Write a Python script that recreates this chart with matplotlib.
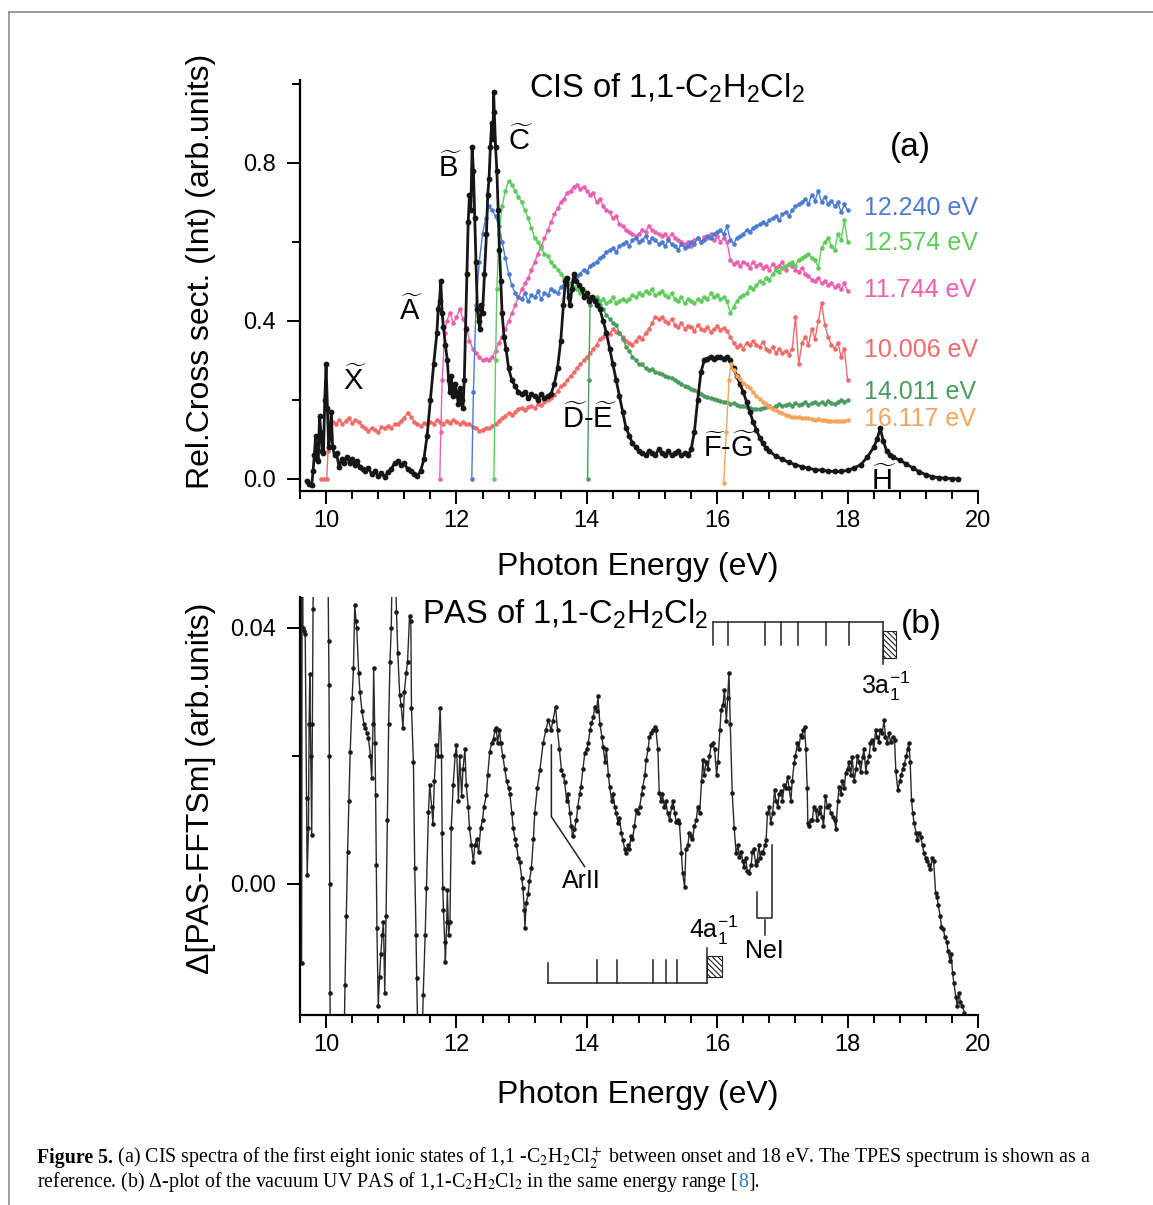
import numpy as np
import matplotlib
matplotlib.use("Agg")
import matplotlib.pyplot as plt
from matplotlib.patches import Rectangle
from matplotlib.lines import Line2D

plt.rcParams['font.family'] = ['Liberation Sans', 'DejaVu Sans']
plt.rcParams['mathtext.fontset'] = 'custom'
plt.rcParams['mathtext.rm'] = 'Liberation Sans'
plt.rcParams['mathtext.it'] = 'Liberation Sans:italic'
plt.rcParams['mathtext.bf'] = 'Liberation Sans:bold'
plt.rcParams['hatch.linewidth'] = 0.8

# ---------------- data, panel (a): CIS spectra ----------------
# TPES reference (black), (energy eV, rel. cross section)
tpes = [(9.70, -0.005), (9.74, -0.012), (9.78, -0.015), (9.80, 0.02), (9.82, 0.06), (9.84, 0.11),
        (9.86, 0.05), (9.88, 0.045), (9.90, 0.16), (9.92, 0.12), (9.94, 0.07), (9.96, 0.065),
        (9.98, 0.20), (10.00, 0.29), (10.02, 0.18), (10.04, 0.08), (10.06, 0.11), (10.08, 0.17),
        (10.10, 0.08), (10.13, 0.06), (10.16, 0.065), (10.20, 0.03), (10.24, 0.05), (10.28, 0.04),
        (10.32, 0.056), (10.36, 0.04), (10.40, 0.05), (10.44, 0.035), (10.48, 0.045), (10.52, 0.03),
        (10.56, 0.025), (10.60, 0.02), (10.65, 0.028), (10.70, 0.012), (10.75, 0.02), (10.80, 0.008),
        (10.85, 0.015), (10.90, 0.005), (10.95, 0.018), (11.00, 0.025), (11.05, 0.04), (11.10, 0.045),
        (11.15, 0.035), (11.20, 0.04), (11.25, 0.025), (11.30, 0.02), (11.35, 0.012), (11.40, 0.008),
        (11.45, 0.02), (11.50, 0.05), (11.55, 0.11), (11.60, 0.20), (11.65, 0.29), (11.70, 0.37),
        (11.72, 0.43), (11.74, 0.45), (11.76, 0.50), (11.78, 0.42), (11.80, 0.385), (11.83, 0.34),
        (11.86, 0.30), (11.88, 0.25), (11.90, 0.22), (11.92, 0.26), (11.95, 0.21), (11.98, 0.24),
        (12.00, 0.22), (12.03, 0.19), (12.06, 0.23), (12.08, 0.20), (12.10, 0.18), (12.12, 0.25),
        (12.14, 0.38), (12.16, 0.52), (12.18, 0.65), (12.20, 0.72), (12.22, 0.68), (12.24, 0.84),
        (12.26, 0.78), (12.28, 0.66), (12.30, 0.55), (12.32, 0.43), (12.34, 0.40), (12.36, 0.38),
        (12.38, 0.44), (12.40, 0.42), (12.43, 0.52), (12.46, 0.62), (12.48, 0.72), (12.50, 0.76),
        (12.52, 0.84), (12.54, 0.90), (12.56, 0.86), (12.57, 0.98), (12.58, 0.93), (12.60, 0.84),
        (12.62, 0.78), (12.64, 0.68), (12.66, 0.58), (12.68, 0.50), (12.70, 0.42), (12.73, 0.36),
        (12.76, 0.33), (12.80, 0.28), (12.85, 0.25), (12.90, 0.235), (12.95, 0.22), (13.00, 0.215),
        (13.05, 0.22), (13.10, 0.205), (13.15, 0.215), (13.20, 0.21), (13.25, 0.20), (13.30, 0.215),
        (13.35, 0.205), (13.40, 0.21), (13.45, 0.215), (13.50, 0.24), (13.55, 0.28), (13.60, 0.35),
        (13.64, 0.44), (13.67, 0.50), (13.70, 0.51), (13.72, 0.46), (13.74, 0.44), (13.77, 0.48),
        (13.80, 0.52), (13.84, 0.50), (13.88, 0.49), (13.92, 0.48), (13.96, 0.46), (14.00, 0.47),
        (14.04, 0.45), (14.08, 0.46), (14.12, 0.45), (14.16, 0.44), (14.20, 0.43), (14.25, 0.40),
        (14.30, 0.37), (14.35, 0.33), (14.40, 0.29), (14.45, 0.25), (14.50, 0.21), (14.55, 0.17),
        (14.60, 0.13), (14.65, 0.11), (14.70, 0.09), (14.75, 0.08), (14.80, 0.07), (14.85, 0.065),
        (14.90, 0.06), (14.95, 0.07), (15.00, 0.065), (15.05, 0.06), (15.10, 0.075), (15.15, 0.065),
        (15.20, 0.06), (15.25, 0.07), (15.30, 0.06), (15.35, 0.065), (15.40, 0.07), (15.45, 0.06),
        (15.50, 0.065), (15.55, 0.06), (15.60, 0.075), (15.65, 0.12), (15.70, 0.20), (15.75, 0.27),
        (15.80, 0.30), (15.85, 0.305), (15.90, 0.31), (15.95, 0.305), (16.00, 0.31), (16.05, 0.31),
        (16.10, 0.305), (16.15, 0.31), (16.20, 0.30), (16.25, 0.28), (16.30, 0.26), (16.35, 0.24),
        (16.40, 0.22), (16.45, 0.195), (16.50, 0.17), (16.55, 0.145), (16.60, 0.125), (16.65, 0.105),
        (16.70, 0.09), (16.75, 0.078), (16.80, 0.07), (16.90, 0.058), (17.00, 0.05), (17.10, 0.042),
        (17.20, 0.036), (17.30, 0.031), (17.40, 0.027), (17.50, 0.024), (17.60, 0.022), (17.70, 0.02),
        (17.80, 0.019), (17.90, 0.019), (18.00, 0.022), (18.10, 0.028), (18.20, 0.036), (18.30, 0.055),
        (18.40, 0.08), (18.45, 0.10), (18.50, 0.128), (18.55, 0.095), (18.60, 0.07), (18.65, 0.06),
        (18.70, 0.055), (18.80, 0.048), (18.90, 0.038), (19.00, 0.028), (19.10, 0.018), (19.20, 0.011),
        (19.30, 0.006), (19.40, 0.003), (19.50, 0.002), (19.60, 0.001), (19.70, 0.0)]

# CIS curves: onset points, then values on a 0.05 eV grid starting at *_start
red_onset = [(9.92, 0.0), (9.97, 0.0), (10.01, 0.0), (10.03, 0.07), (10.06, 0.14)]
red_start = 10.10
red_vals = [0.145, 0.14, 0.15, 0.138, 0.148, 0.155, 0.142, 0.15, 0.145, 0.135,
            0.128, 0.122, 0.13, 0.125, 0.12, 0.132, 0.128, 0.135, 0.13, 0.138,
            0.14, 0.148, 0.155, 0.168, 0.158, 0.145, 0.14, 0.135, 0.142, 0.138,
            0.145, 0.14, 0.15, 0.145, 0.138, 0.148, 0.142, 0.15, 0.145, 0.14,
            0.145, 0.138, 0.14, 0.132, 0.128, 0.122, 0.125, 0.13, 0.128, 0.135,
            0.14, 0.148, 0.155, 0.16, 0.168, 0.162, 0.17, 0.178, 0.18, 0.175,
            0.182, 0.185, 0.18, 0.19, 0.188, 0.195, 0.2, 0.205, 0.212, 0.222,
            0.235, 0.24, 0.25, 0.262, 0.27, 0.28, 0.29, 0.3, 0.31, 0.318,
            0.33, 0.34, 0.355, 0.36, 0.373, 0.368, 0.38, 0.372, 0.37, 0.36,
            0.35, 0.345, 0.34, 0.35, 0.36, 0.355, 0.37, 0.38, 0.395, 0.41,
            0.405, 0.41, 0.4, 0.395, 0.405, 0.39, 0.385, 0.395, 0.38, 0.388,
            0.385, 0.375, 0.39, 0.38, 0.378, 0.385, 0.372, 0.38, 0.388, 0.378,
            0.382, 0.375, 0.36, 0.345, 0.335, 0.34, 0.33, 0.345, 0.338, 0.35,
            0.34, 0.335, 0.348, 0.33, 0.325, 0.335, 0.32, 0.33, 0.318, 0.325,
            0.315, 0.33, 0.41, 0.29, 0.345, 0.36, 0.34, 0.38, 0.355, 0.4,
            0.445, 0.39, 0.36, 0.34, 0.33, 0.345, 0.31, 0.33, 0.25]

pink_onset = [(11.744, 0.0), (11.76, 0.12), (11.78, 0.25), (11.82, 0.37)]
pink_start = 11.85
pink_vals = [0.40, 0.42, 0.395, 0.41, 0.43, 0.405, 0.385, 0.35, 0.33, 0.318,
             0.31, 0.30, 0.305, 0.30, 0.31, 0.325, 0.345, 0.36, 0.38, 0.40,
             0.42, 0.44, 0.46, 0.48, 0.495, 0.51, 0.53, 0.55, 0.57, 0.59,
             0.61, 0.63, 0.65, 0.67, 0.685, 0.70, 0.71, 0.725, 0.73, 0.74,
             0.745, 0.735, 0.74, 0.73, 0.72, 0.725, 0.70, 0.71, 0.69, 0.68,
             0.675, 0.66, 0.665, 0.645, 0.64, 0.63, 0.625, 0.62, 0.615, 0.62,
             0.63, 0.625, 0.64, 0.63, 0.625, 0.62, 0.615, 0.62, 0.61, 0.62,
             0.61, 0.605, 0.60, 0.595, 0.60, 0.59, 0.605, 0.61, 0.60, 0.613,
             0.61, 0.62, 0.605, 0.615, 0.60, 0.61, 0.60, 0.555, 0.545, 0.55,
             0.54, 0.55, 0.545, 0.535, 0.55, 0.54, 0.545, 0.535, 0.54, 0.53,
             0.545, 0.535, 0.54, 0.55, 0.53, 0.545, 0.54, 0.53, 0.525, 0.535,
             0.52, 0.515, 0.505, 0.50, 0.51, 0.495, 0.50, 0.49, 0.495, 0.485,
             0.49, 0.48, 0.495, 0.475]

blue_onset = [(12.235, 0.0), (12.26, 0.22), (12.30, 0.44)]
blue_start = 12.35
blue_vals = [0.55, 0.62, 0.66, 0.69, 0.68, 0.665, 0.64, 0.60, 0.56, 0.52,
             0.49, 0.47, 0.46, 0.455, 0.47, 0.45, 0.465, 0.46, 0.475, 0.455,
             0.47, 0.465, 0.48, 0.475, 0.47, 0.485, 0.49, 0.50, 0.495, 0.51,
             0.515, 0.52, 0.53, 0.525, 0.54, 0.545, 0.55, 0.56, 0.565, 0.575,
             0.58, 0.585, 0.575, 0.59, 0.595, 0.60, 0.59, 0.605, 0.61, 0.60,
             0.605, 0.615, 0.60, 0.61, 0.605, 0.595, 0.60, 0.59, 0.605, 0.595,
             0.59, 0.58, 0.595, 0.585, 0.59, 0.60, 0.595, 0.61, 0.60, 0.605,
             0.615, 0.61, 0.62, 0.625, 0.63, 0.62, 0.64, 0.605, 0.595, 0.61,
             0.615, 0.62, 0.63, 0.625, 0.635, 0.64, 0.645, 0.65, 0.645, 0.655,
             0.66, 0.665, 0.655, 0.67, 0.675, 0.665, 0.68, 0.69, 0.695, 0.70,
             0.71, 0.695, 0.72, 0.705, 0.73, 0.70, 0.715, 0.695, 0.705, 0.69,
             0.70, 0.675, 0.695, 0.68]

green_onset = [(12.574, 0.0), (12.60, 0.30), (12.62, 0.48)]
green_start = 12.65
green_vals = [0.62, 0.69, 0.73, 0.755, 0.745, 0.73, 0.715, 0.70, 0.68, 0.66,
              0.635, 0.61, 0.60, 0.585, 0.57, 0.565, 0.55, 0.54, 0.53, 0.52,
              0.51, 0.50, 0.49, 0.485, 0.48, 0.47, 0.475, 0.465, 0.46, 0.455,
              0.46, 0.45, 0.455, 0.445, 0.45, 0.46, 0.445, 0.45, 0.455, 0.45,
              0.455, 0.465, 0.46, 0.47, 0.465, 0.475, 0.47, 0.48, 0.465, 0.47,
              0.475, 0.465, 0.46, 0.47, 0.455, 0.45, 0.46, 0.445, 0.455, 0.45,
              0.445, 0.455, 0.45, 0.46, 0.455, 0.47, 0.46, 0.465, 0.455, 0.46,
              0.45, 0.42, 0.435, 0.45, 0.46, 0.465, 0.47, 0.485, 0.48, 0.49,
              0.50, 0.495, 0.51, 0.505, 0.52, 0.53, 0.525, 0.535, 0.54, 0.545,
              0.55, 0.54, 0.555, 0.56, 0.565, 0.57, 0.56, 0.555, 0.535, 0.585,
              0.60, 0.61, 0.59, 0.58, 0.62, 0.605, 0.655, 0.60]

dgreen_onset = [(14.011, 0.0), (14.03, 0.25), (14.05, 0.44)]
dgreen_start = 14.10
dgreen_vals = [0.46, 0.455, 0.44, 0.43, 0.415, 0.405, 0.395, 0.39, 0.37, 0.355,
               0.335, 0.325, 0.31, 0.30, 0.29, 0.29, 0.28, 0.275, 0.278, 0.27,
               0.268, 0.265, 0.26, 0.258, 0.255, 0.25, 0.245, 0.24, 0.235, 0.232,
               0.228, 0.225, 0.22, 0.215, 0.21, 0.208, 0.205, 0.202, 0.20, 0.198,
               0.196, 0.195, 0.19, 0.192, 0.188, 0.185, 0.186, 0.182, 0.18, 0.178,
               0.176, 0.178, 0.18, 0.182, 0.185, 0.18, 0.186, 0.19, 0.185, 0.188,
               0.19, 0.186, 0.192, 0.188, 0.19, 0.195, 0.188, 0.192, 0.196, 0.19,
               0.195, 0.19, 0.198, 0.192, 0.19, 0.196, 0.2, 0.195, 0.2]

orange_onset = [(16.10, -0.01), (16.14, 0.12), (16.18, 0.25), (16.21, 0.29)]
orange_start = 16.25
orange_vals = [0.275, 0.262, 0.252, 0.244, 0.236, 0.23, 0.22, 0.21, 0.202, 0.195,
               0.19, 0.183, 0.178, 0.175, 0.17, 0.167, 0.163, 0.16, 0.158, 0.157,
               0.156, 0.155, 0.154, 0.155, 0.152, 0.15, 0.151, 0.149, 0.15, 0.148,
               0.147, 0.148, 0.146, 0.148, 0.147, 0.15]

cis_labels = ['12.240 eV', '12.574 eV', '11.744 eV', '10.006 eV', '14.011 eV', '16.117 eV']
cis_label_y = [0.686, 0.597, 0.478, 0.327, 0.22, 0.152]

# state labels of the ion, (text, energy, baseline)
states = [(r'$\widetilde{\mathrm{X}}$', 10.44, 0.225),
          (r'$\widetilde{\mathrm{A}}$', 11.30, 0.403),
          (r'$\widetilde{\mathrm{B}}$', 11.91, 0.765),
          (r'$\widetilde{\mathrm{C}}$', 12.99, 0.833),
          (r'$\widetilde{\mathrm{D}}$-$\widetilde{\mathrm{E}}$', 14.04, 0.129),
          (r'$\widetilde{\mathrm{F}}$-$\widetilde{\mathrm{G}}$', 16.20, 0.056),
          (r'$\widetilde{\mathrm{H}}$', 18.56, -0.028)]

# ---------------- data, panel (b): PAS delta plot ----------------
pas = [(9.60, -0.03), (9.61, 0.06), (9.625, -0.0123), (9.635, 0.07), (9.645, 0.040), (9.66, 0.0395),
       (9.68, 0.039), (9.70, 0.0134), (9.71, 0.0014), (9.73, 0.0087), (9.74, 0.025), (9.75, 0.0327),
       (9.765, 0.02), (9.78, 0.0077), (9.79, 0.025), (9.80, 0.043), (9.83, 0.07), (9.90, 0.12),
       (9.97, 0.10), (10.02, 0.06), (10.04, 0.038), (10.045, 0.031), (10.05, 0.02), (10.055, 0.0),
       (10.06, -0.017), (10.08, -0.04), (10.15, -0.07), (10.24, -0.05), (10.29, -0.0158), (10.31, -0.005),
       (10.33, 0.005), (10.35, 0.013), (10.37, 0.0206), (10.40, 0.029), (10.42, 0.0337), (10.44, 0.0436),
       (10.46, 0.041), (10.47, 0.040), (10.50, 0.033), (10.52, 0.030), (10.55, 0.027), (10.58, 0.025),
       (10.60, 0.0244), (10.63, 0.0235), (10.65, 0.0228), (10.68, 0.02), (10.70, 0.0165), (10.72, 0.025),
       (10.73, 0.0337), (10.75, 0.022), (10.76, 0.0139), (10.77, 0.003), (10.78, -0.0069), (10.80, -0.019),
       (10.82, -0.0145), (10.84, -0.011), (10.86, -0.008), (10.88, -0.006), (10.90, -0.017), (10.92, -0.005),
       (10.94, 0.01), (10.96, 0.025), (10.98, 0.0347), (11.00, 0.040), (11.02, 0.055), (11.06, 0.05),
       (11.08, 0.0425), (11.10, 0.036), (11.13, 0.0295), (11.15, 0.028), (11.18, 0.0244), (11.20, 0.03),
       (11.23, 0.033), (11.25, 0.0347), (11.28, 0.0418), (11.30, 0.041), (11.31, 0.0275), (11.34, 0.019),
       (11.36, 0.0025), (11.38, -0.008), (11.39, -0.0147), (11.42, -0.03), (11.46, -0.03), (11.49, -0.0173),
       (11.52, -0.008), (11.54, -0.0006), (11.57, 0.0112), (11.59, 0.0155), (11.62, 0.012), (11.64, 0.0093),
       (11.66, 0.016), (11.69, 0.0217), (11.72, 0.020), (11.75, 0.0275), (11.77, 0.020), (11.78, 0.008),
       (11.79, -0.0006), (11.80, -0.004), (11.82, -0.009), (11.83, -0.0122), (11.85, -0.006), (11.86, -0.001),
       (11.88, -0.008), (11.90, -0.006), (11.92, 0.0087), (11.95, 0.0155), (11.98, 0.0201), (12.00, 0.0217),
       (12.03, 0.013), (12.05, 0.020), (12.08, 0.0137), (12.10, 0.018), (12.13, 0.021), (12.15, 0.0155),
       (12.18, 0.012), (12.20, 0.0087), (12.23, 0.006), (12.26, 0.0034), (12.28, 0.006), (12.31, 0.007),
       (12.34, 0.005), (12.37, 0.0087), (12.40, 0.010), (12.42, 0.012), (12.46, 0.0139), (12.48, 0.017),
       (12.51, 0.0206), (12.54, 0.022), (12.57, 0.0227), (12.59, 0.024), (12.61, 0.0244), (12.63, 0.022),
       (12.66, 0.024), (12.68, 0.022), (12.71, 0.020), (12.74, 0.018), (12.77, 0.016), (12.80, 0.015),
       (12.82, 0.014), (12.85, 0.011), (12.87, 0.0087), (12.90, 0.007), (12.92, 0.006), (12.95, 0.004),
       (12.97, 0.0034), (13.00, 0.001), (13.02, -0.0006), (13.04, -0.004), (13.05, -0.0069), (13.07, -0.003),
       (13.10, -0.0015), (13.12, 0.0005), (13.15, 0.0025), (13.18, 0.007), (13.20, 0.011), (13.24, 0.015),
       (13.28, 0.0178), (13.33, 0.022), (13.37, 0.024), (13.41, 0.0256), (13.45, 0.024), (13.48, 0.0255),
       (13.52, 0.0277), (13.55, 0.024), (13.58, 0.021), (13.61, 0.0178), (13.64, 0.017), (13.66, 0.0159),
       (13.69, 0.013), (13.71, 0.014), (13.74, 0.011), (13.76, 0.009), (13.78, 0.0075), (13.81, 0.0085),
       (13.84, 0.010), (13.86, 0.012), (13.89, 0.014), (13.91, 0.0152), (13.94, 0.018), (13.97, 0.0205),
       (14.00, 0.021), (14.02, 0.022), (14.05, 0.024), (14.07, 0.0251), (14.10, 0.026), (14.12, 0.0277),
       (14.15, 0.027), (14.17, 0.0293), (14.20, 0.025), (14.23, 0.023), (14.25, 0.0214), (14.28, 0.019),
       (14.30, 0.021), (14.33, 0.017), (14.35, 0.0152), (14.38, 0.013), (14.40, 0.014), (14.43, 0.012),
       (14.45, 0.011), (14.48, 0.0095), (14.50, 0.0103), (14.53, 0.008), (14.55, 0.0069), (14.58, 0.0055),
       (14.60, 0.0048), (14.63, 0.006), (14.65, 0.0055), (14.68, 0.0075), (14.70, 0.007), (14.73, 0.009),
       (14.76, 0.0116), (14.78, 0.011), (14.81, 0.012), (14.84, 0.014), (14.86, 0.0152), (14.89, 0.017),
       (14.91, 0.0194), (14.94, 0.021), (14.96, 0.023), (14.99, 0.0235), (15.01, 0.024), (15.04, 0.0245),
       (15.06, 0.024), (15.09, 0.021), (15.11, 0.0142), (15.14, 0.013), (15.16, 0.014), (15.19, 0.012),
       (15.21, 0.013), (15.24, 0.011), (15.27, 0.010), (15.30, 0.012), (15.32, 0.013), (15.35, 0.011),
       (15.37, 0.0097), (15.40, 0.010), (15.42, 0.0095), (15.45, 0.0048), (15.47, 0.0017), (15.50, -0.0005),
       (15.52, 0.0055), (15.55, 0.006), (15.57, 0.008), (15.60, 0.0075), (15.62, 0.007), (15.65, 0.009),
       (15.68, 0.010), (15.70, 0.012), (15.73, 0.011), (15.76, 0.016), (15.78, 0.0194), (15.80, 0.017),
       (15.83, 0.019), (15.86, 0.018), (15.88, 0.020), (15.91, 0.0217), (15.93, 0.022), (15.96, 0.021),
       (15.99, 0.017), (16.01, 0.019), (16.04, 0.024), (16.06, 0.0272), (16.09, 0.028), (16.11, 0.0303),
       (16.14, 0.0255), (16.16, 0.029), (16.18, 0.033), (16.20, 0.025), (16.23, 0.0142), (16.26, 0.0087),
       (16.29, 0.0048), (16.32, 0.006), (16.34, 0.0042), (16.37, 0.005), (16.39, 0.0035), (16.41, 0.0027),
       (16.44, 0.004), (16.46, 0.002), (16.49, 0.0017), (16.52, 0.003), (16.54, 0.005), (16.56, 0.0055),
       (16.59, 0.003), (16.61, 0.0035), (16.64, 0.006), (16.66, 0.004), (16.68, 0.005), (16.70, 0.0048),
       (16.73, 0.006), (16.75, 0.0068), (16.77, 0.011), (16.80, 0.012), (16.82, 0.0095), (16.85, 0.011),
       (16.88, 0.0147), (16.90, 0.013), (16.93, 0.012), (16.95, 0.014), (16.98, 0.0145), (17.00, 0.013),
       (17.03, 0.0155), (17.05, 0.015), (17.08, 0.0167), (17.10, 0.015), (17.13, 0.013), (17.15, 0.016),
       (17.18, 0.0189), (17.20, 0.020), (17.23, 0.022), (17.25, 0.021), (17.28, 0.0233), (17.30, 0.023),
       (17.32, 0.024), (17.34, 0.0245), (17.36, 0.021), (17.38, 0.015), (17.39, 0.0095), (17.41, 0.009),
       (17.44, 0.010), (17.46, 0.010), (17.48, 0.012), (17.51, 0.0115), (17.53, 0.010), (17.56, 0.011),
       (17.58, 0.012), (17.61, 0.0105), (17.63, 0.009), (17.66, 0.0138), (17.69, 0.012), (17.72, 0.0123),
       (17.74, 0.011), (17.77, 0.0105), (17.80, 0.010), (17.82, 0.0085), (17.85, 0.013), (17.87, 0.0152),
       (17.90, 0.014), (17.92, 0.016), (17.95, 0.015), (17.97, 0.0173), (18.00, 0.018), (18.02, 0.019),
       (18.05, 0.017), (18.07, 0.0198), (18.10, 0.016), (18.13, 0.018), (18.15, 0.020), (18.18, 0.019),
       (18.20, 0.0175), (18.23, 0.0198), (18.25, 0.021), (18.28, 0.0175), (18.30, 0.019), (18.33, 0.020),
       (18.35, 0.022), (18.38, 0.0225), (18.40, 0.021), (18.43, 0.024), (18.45, 0.023), (18.48, 0.0222),
       (18.50, 0.024), (18.53, 0.0235), (18.56, 0.0256), (18.58, 0.023), (18.61, 0.022), (18.63, 0.0235),
       (18.66, 0.0222), (18.69, 0.023), (18.72, 0.0225), (18.74, 0.0176), (18.77, 0.0147), (18.80, 0.016),
       (18.82, 0.017), (18.85, 0.018), (18.87, 0.0187), (18.90, 0.020), (18.92, 0.021), (18.94, 0.022),
       (18.96, 0.019), (18.98, 0.0131), (19.00, 0.011), (19.02, 0.0095), (19.05, 0.008), (19.07, 0.0069),
       (19.10, 0.008), (19.12, 0.0073), (19.15, 0.006), (19.17, 0.0048), (19.20, 0.004), (19.22, 0.0035),
       (19.25, 0.003), (19.27, 0.0024), (19.30, 0.004), (19.32, 0.0035), (19.35, -0.0014), (19.37, -0.002),
       (19.39, -0.0033), (19.42, -0.005), (19.44, -0.0067), (19.47, -0.007), (19.49, -0.0083), (19.52, -0.009),
       (19.54, -0.0104), (19.57, -0.012), (19.59, -0.011), (19.61, -0.0139), (19.63, -0.0155), (19.66, -0.0176),
       (19.68, -0.019), (19.71, -0.017), (19.73, -0.0185), (19.76, -0.019), (19.79, -0.0201), (19.81, -0.0215)]

# ionisation bands (3a1^-1 above, 4a1^-1 below), energies in eV
band3_ticks = [15.93, 16.16, 16.74, 16.98, 17.24, 17.67, 18.02]
band3_end = 18.55
band4_ticks = [13.40, 14.15, 14.46, 15.01, 15.21, 15.38]
band4_end = 15.84

black = '#161616'
c_red, c_pink, c_blue = '#f06a6a', '#ec5fae', '#4a7bd0'
c_green, c_dgreen, c_orange = '#5dcc5b', '#4b9a5f', '#f6a35c'

W, H = 1153, 1205
fig = plt.figure(figsize=(W / 100, H / 100), dpi=100)


def style(ax):
    for s in ['top', 'right']:
        ax.spines[s].set_visible(False)
    for s in ['left', 'bottom']:
        ax.spines[s].set_linewidth(1.6)
    ax.tick_params(which='major', direction='out', length=9.5, width=1.4, labelsize=17)
    ax.tick_params(which='minor', direction='out', length=5.5, width=1.4)
    ax.tick_params(axis='x', which='major', pad=4)
    ax.tick_params(axis='y', which='major', pad=8)
    ax.set_xlim(9.6, 20.0)
    ax.set_xticks([10, 12, 14, 16, 18, 20])
    ax.set_xticks(np.arange(9.6, 20.01, 0.4), minor=True)


# ---------------- panel (a) ----------------
ax1 = fig.add_axes([300 / W, 1 - 491 / H, 678 / W, 411 / H])
style(ax1)
ax1.set_ylim(-0.0304, 1.0101)
ax1.set_yticks([0.0, 0.4, 0.8])
ax1.set_yticklabels(['0.0', '0.4', '0.8'])
ax1.set_yticks([0.2, 0.6, 1.0], minor=True)

curves = [(red_onset, red_start, red_vals, c_red),
          (pink_onset, pink_start, pink_vals, c_pink),
          (blue_onset, blue_start, blue_vals, c_blue),
          (green_onset, green_start, green_vals, c_green),
          (dgreen_onset, dgreen_start, dgreen_vals, c_dgreen)]
for onset, start, vals, c in curves:
    e = [p[0] for p in onset] + list(np.round(start + 0.05 * np.arange(len(vals)), 3))
    v = [p[1] for p in onset] + vals
    ax1.plot(e, v, '-o', color=c, lw=1.0, ms=3.3, mew=0, zorder=2)

ax1.plot([p[0] for p in tpes], [p[1] for p in tpes], '-o', color=black, lw=2.0, ms=4.2, mew=0, zorder=3)

e = [p[0] for p in orange_onset] + list(np.round(orange_start + 0.05 * np.arange(len(orange_vals)), 3))
v = [p[1] for p in orange_onset] + orange_vals
ax1.plot(e, v, '-o', color=c_orange, lw=1.0, ms=3.3, mew=0, zorder=4)

for lab, yy, c in zip(cis_labels, cis_label_y, [c_blue, c_green, c_pink, c_red, c_dgreen, c_orange]):
    ax1.text(18.25, yy, lab, color=c, fontsize=18, va='center', ha='left')

ax1.text(13.12, 0.99, r'CIS of 1,1-C$_2$H$_2$Cl$_2$', fontsize=23.5, va='center', ha='left')
ax1.text(18.97, 0.838, '(a)', fontsize=24, va='center', ha='center')

for s, x, y in states:
    ax1.text(x, y, s, fontsize=21, ha='center', va='baseline', zorder=5)

# ---------------- panel (b) ----------------
ax2 = fig.add_axes([300 / W, 1 - 1015 / H, 678 / W, 418 / H])
style(ax2)
ax2.set_ylim(-0.02047, 0.0448)
ax2.set_yticks([0.0, 0.04])
ax2.set_yticklabels(['0.00', '0.04'])
ax2.set_yticks([0.02], minor=True)
ax2.plot([p[0] for p in pas], [p[1] for p in pas], '-o', color='#2a2a2a', lw=1.0,
         ms=3.3, mfc='#1a1a1a', mew=0)

ax2.text(11.47, 0.0421, r'PAS of 1,1-C$_2$H$_2$Cl$_2$', fontsize=23.5, va='center', ha='left')
ax2.text(19.13, 0.0405, '(b)', fontsize=24, va='center', ha='center')

lk = dict(color='#222222', lw=1.1)
# 3a1^-1 band
ax2.plot([band3_ticks[0], band3_end], [0.0409, 0.0409], **lk)
for t in band3_ticks:
    ax2.plot([t, t], [0.0409, 0.0373], **lk)
ax2.plot([band3_end, band3_end], [0.0409, 0.0344], **lk)
ax2.add_patch(Rectangle((band3_end, 0.0353), 0.19, 0.0042, facecolor='white',
                        edgecolor='#222222', lw=0.8, hatch='\\\\\\\\\\\\'))
ax2.text(18.58, 0.0309, r'3a$_1^{-1}$', fontsize=18, ha='center', va='center')

# 4a1^-1 band
ax2.plot([band4_ticks[0], band4_end], [-0.0155, -0.0155], **lk)
ax2.plot([band4_ticks[0], band4_ticks[0]], [-0.0155, -0.0123], **lk)
for t in band4_ticks[1:]:
    ax2.plot([t, t], [-0.0155, -0.0119], **lk)
ax2.plot([band4_end, band4_end], [-0.0155, -0.0100], **lk)
ax2.add_patch(Rectangle((band4_end, -0.0145), 0.24, 0.0033, facecolor='white',
                        edgecolor='#222222', lw=0.8, hatch='\\\\\\\\\\\\'))
ax2.text(15.57, -0.0072, r'4a$_1^{-1}$', fontsize=18, ha='left', va='center')

# NeI and ArII markers
ax2.plot([16.845, 16.845, 16.615, 16.615], [0.0061, -0.0053, -0.0053, -0.0013], **lk)
ax2.plot([16.73, 16.73], [-0.0056, -0.0080], **lk)
ax2.text(16.73, -0.0105, 'NeI', fontsize=18, ha='center', va='center')
ax2.plot([13.456, 13.456, 13.966], [0.0217, 0.0105, 0.0027], **lk)
ax2.text(13.92, 0.0005, 'ArII', fontsize=18, ha='center', va='center')

# axis labels
fig.text(638 / W, 1 - 567 / H, 'Photon Energy (eV)', fontsize=23, ha='center', va='center')
fig.text(638 / W, 1 - 1095 / H, 'Photon Energy (eV)', fontsize=23, ha='center', va='center')
fig.text(201 / W, 1 - 271 / H, 'Rel.Cross sect. (Int) (arb.units)', fontsize=23,
         rotation=90, ha='center', va='center')
fig.text(201 / W, 1 - 788 / H, 'Δ[PAS-FFTSm] (arb.units)', fontsize=23,
         rotation=90, ha='center', va='center')

# page frame
fig.add_artist(Line2D([9 / W, 9 / W], [0, 1 - 12 / H], transform=fig.transFigure, color='#8c8c8c', lw=1.2))
fig.add_artist(Line2D([9 / W, 1], [1 - 12 / H, 1 - 12 / H], transform=fig.transFigure, color='#8c8c8c', lw=1.2))

# caption
cap_lines = [
    (1163, [('Figure 5.', 'bold', 'black'),
            (' (a) CIS spectra of the first eight ionic states of 1,1 -C$_2$H$_2$Cl$_2^+$ between onset and 18 eV. '
             'The TPES spectrum is shown as a', 'normal', 'black')]),
    (1187, [('reference. (b) Δ-plot of the vacuum UV PAS of 1,1-C$_2$H$_2$Cl$_2$ in the same energy range [',
             'normal', 'black'), ('8', 'normal', '#2b7bbf'), ('].', 'normal', 'black')]),
]
renderer = fig.canvas.get_renderer()


def draw_line(y, pieces, fs):
    x = 37.0
    arts = []
    for s, w, c in pieces:
        t = fig.text(x / W, 1 - y / H, s, fontsize=fs, fontweight=w, color=c, ha='left', va='baseline',
                     fontfamily=['Liberation Serif', 'DejaVu Serif'], math_fontfamily='stix')
        x += t.get_window_extent(renderer=renderer).width
        arts.append(t)
    return arts, x - 37.0


arts, width = draw_line(cap_lines[0][0], cap_lines[0][1], 14)
for a in arts:
    a.remove()
fs = 14 * 1060.0 / width
for y, pieces in cap_lines:
    draw_line(y, pieces, fs)

fig.savefig('out.png', dpi=100)
